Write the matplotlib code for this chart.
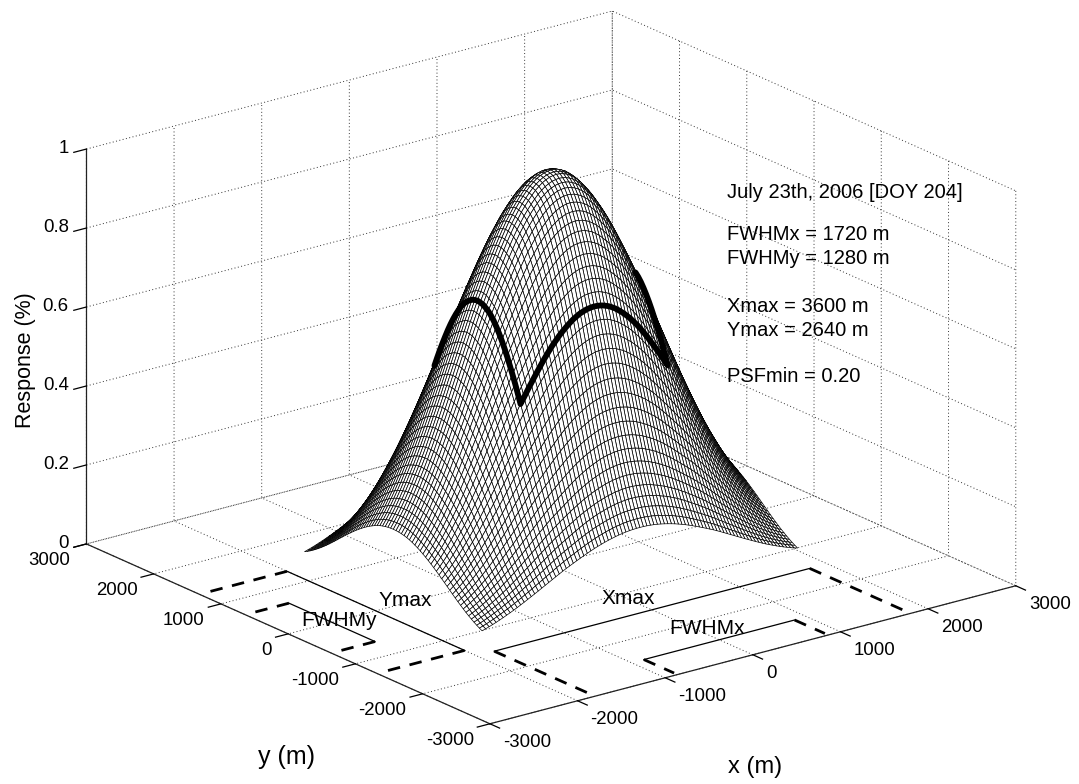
#!/usr/bin/python3
import numpy as np
import matplotlib
matplotlib.use('Agg')
import matplotlib.pyplot as plt

# response profiles at 40 m steps, centre to edge
# (the mesh is drawn as the product of the two, an approximation of the original surface)
x_profile = [1.000,0.999,0.997,0.993,0.988,0.981,0.973,0.963,0.952,0.940,0.927,0.912,0.897,0.880,0.862,0.843,
             0.823,0.803,0.782,0.761,0.739,0.718,0.694,0.670,0.645,0.620,0.595,0.570,0.545,0.520,0.495,
             0.471,0.447,0.423,0.400,0.377,0.355,0.334,0.314,0.294,0.275,0.257,0.240,0.224,0.209,0.195]
y_profile = [1.000,0.998,0.995,0.988,0.980,0.969,0.955,0.938,0.919,0.898,0.875,0.850,0.823,0.795,0.766,0.735,
             0.703,0.671,0.637,0.603,0.569,0.534,0.500,0.466,0.433,0.401,0.370,0.340,0.312,0.285,0.260,
             0.236,0.214,0.195]

x_ticks = [-3000,-2000,-1000,0,1000,2000,3000]
y_ticks = [-3000,-2000,-1000,0,1000,2000,3000]
z_ticks = [0,0.2,0.4,0.6,0.8,1]
z_ticklabels = ['0','0.2','0.4','0.6','0.8','1']
x_max = 1800
y_max = 1320
fwhm_x = 860
fwhm_y = 640
wall = 2950
step = 40
info = ['July 23th, 2006 [DOY 204]','FWHMx = 1720 m','FWHMy = 1280 m','Xmax = 3600 m','Ymax = 2640 m','PSFmin = 0.20']

plt.rcParams['font.family'] = ['Liberation Sans','DejaVu Sans']
plt.rcParams['axes.unicode_minus'] = False
plt.rcParams['grid.linestyle'] = (0,(1,2.5))
plt.rcParams['grid.linewidth'] = 0.7
plt.rcParams['grid.color'] = '#333333'

nx = len(x_profile)-1
ny = len(y_profile)-1
xs = step*np.arange(-nx,nx+1)
ys = step*np.arange(-ny,ny+1)
px = np.array(x_profile[::-1]+x_profile[1:])
py = np.array(y_profile[::-1]+y_profile[1:])
X,Y = np.meshgrid(xs,ys)
Z = np.outer(py,px)

fig = plt.figure(figsize=(10.79,7.84),dpi=100)
ax = fig.add_axes([1/1079,14/784,1,1],projection='3d',proj_type='ortho',computed_zorder=False)
ax.view_init(elev=20,azim=-127.5)
ax.set_xlim(-3000,3000,view_margin=0)
ax.set_ylim(-3000,3000,view_margin=0)
ax.set_zlim(0,1,view_margin=0)
ax.set_box_aspect((1,1,0.634),zoom=1.272)

# base plane brackets
def base_line(xv,yv,**kw):
    ax.plot(xv,yv,[0,0],color='black',zorder=1,**kw)

solid = dict(linewidth=0.9)
dash = dict(linewidth=2,linestyle=(0,(4.5,3.5)))
base_line([-x_max,x_max],[-y_max-180,-y_max-180],**solid)
base_line([-fwhm_x,fwhm_x],[-2500,-2500],**solid)
base_line([-2000,-2000],[-y_max,y_max],**solid)
base_line([-2500,-2500],[-fwhm_y,fwhm_y],**solid)
for s in (-1,1):
    base_line([s*x_max,s*x_max],[-y_max-180,-wall],**dash)
    base_line([s*fwhm_x,s*fwhm_x],[-2500,-wall],**dash)
    base_line([-2000,-wall],[s*y_max,s*y_max],**dash)
    base_line([-2500,-wall],[s*fwhm_y,s*fwhm_y],**dash)

ax.plot_surface(X,Y,Z,rstride=1,cstride=1,color='white',edgecolor='black',linewidth=0.5,shade=False,zorder=2)

# thick curve, visible part of the rectangle on the surface
i0 = ny-fwhm_y//step
i1 = ny+fwhm_y//step
j0 = nx-fwhm_x//step
j1 = nx+fwhm_x//step
i_start = ny-4
path_x = np.concatenate([X[i_start:i0:-1,j1],X[i0,j1:j0:-1],X[i0:i1+1,j0]])
path_y = np.concatenate([Y[i_start:i0:-1,j1],Y[i0,j1:j0:-1],Y[i0:i1+1,j0]])
path_z = np.concatenate([Z[i_start:i0:-1,j1],Z[i0,j1:j0:-1],Z[i0:i1+1,j0]])
ax.plot(path_x,path_y,path_z,color='black',linewidth=4.2,zorder=3,solid_capstyle='round')

ax.set_xticks(x_ticks)
ax.set_yticks(y_ticks)
ax.set_zticks(z_ticks)
ax.set_xticklabels([str(v) for v in x_ticks],ha='left',va='center',fontsize=13.4)
ax.set_yticklabels([str(v) for v in y_ticks],ha='right',va='center',fontsize=13.4)
ax.set_zticklabels(z_ticklabels,ha='right',va='center',fontsize=13.4)
ax.tick_params(axis='x',pad=1.5,colors='black')
ax.tick_params(axis='y',pad=1,colors='black')
ax.tick_params(axis='z',pad=-2.4,colors='black')

for axis in (ax.xaxis,ax.yaxis,ax.zaxis):
    axis.set_pane_color((1,1,1,0))
    axis.pane.set_edgecolor((1,1,1,0))
    axis.line.set_color('#222222')
    axis.line.set_linewidth(0.9)
    axis._axinfo['tick']['inward_factor'] = 0.3
    axis._axinfo['tick']['outward_factor'] = 0
    axis._axinfo['tick']['linewidth'] = {True:0.9,False:0.9}
    axis._axinfo['tick']['color'] = '#333333'

def label(xp,yp,s,size=14.5,**kw):
    fig.text(xp/1079,1-yp/784,s,fontsize=size,va='center',**kw)

info_y = [192,235,259,307,331,376]
for s,yp in zip(info,info_y):
    label(727,yp,s)
label(405,600,'Ymax',size=15,ha='center')
label(339,621,'FWHMy',size=15,ha='center')
label(628,599,'Xmax',size=15,ha='center')
label(707,629,'FWHMx',size=15,ha='center')
label(25,360,'Response (%)',size=15.5,ha='center',rotation=90)
label(287,757,'y (m)',size=18,ha='center')
label(755,767,'x (m)',size=17,ha='center')

plt.savefig('out.png',dpi=100)
